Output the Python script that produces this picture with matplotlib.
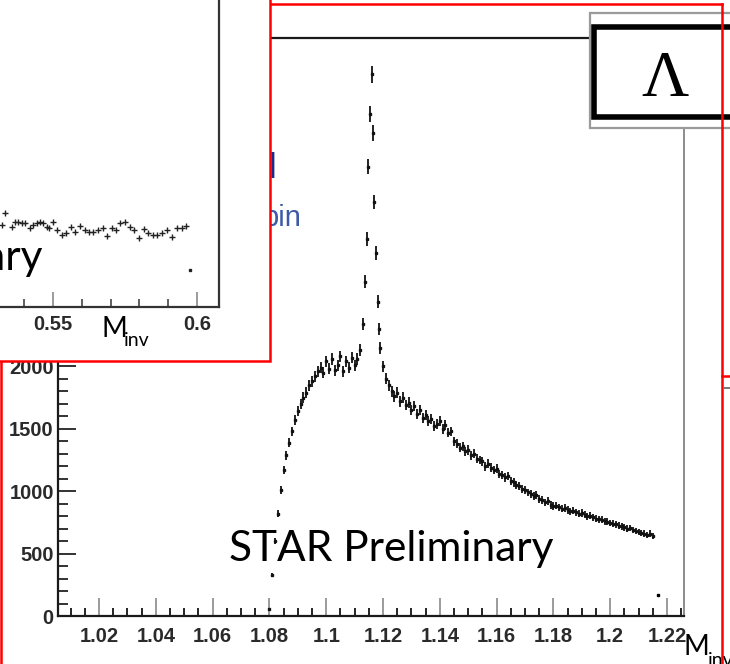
import numpy as np
import matplotlib
matplotlib.use("Agg")
from matplotlib import pyplot as plt
from matplotlib.patches import Rectangle
from matplotlib.lines import Line2D
from matplotlib.ticker import MultipleLocator, FuncFormatter

# main Lambda histogram: rising edge + plateau (0.001 bins)
rise_x = [1.080, 1.081, 1.082, 1.083, 1.084, 1.085, 1.086, 1.087, 1.088, 1.089,
          1.090, 1.091, 1.092, 1.093, 1.094, 1.095, 1.096, 1.097, 1.098, 1.099,
          1.100, 1.101, 1.102, 1.103, 1.104, 1.105, 1.106, 1.107, 1.108, 1.109,
          1.110, 1.111, 1.112]
rise_y = [60, 330, 600, 820, 1010, 1170, 1290, 1390, 1480, 1570,
          1640, 1700, 1750, 1790, 1850, 1880, 1920, 1960, 1990, 1950,
          2040, 1980, 2060, 1970, 2010, 2080, 1960, 2040, 1990, 2070,
          2010, 2060, 2130]

# peak
peak_x = [1.1130, 1.1136, 1.1142, 1.1148, 1.1154, 1.1160, 1.1165, 1.1170,
          1.1175, 1.1181, 1.1186]
peak_y = [2340, 2680, 3020, 3600, 4020, 4340, 3870, 3320, 2910, 2520, 2300]

# tail, 1.119 .. 1.215
tail_y = [2150, 2000, 1900, 1850, 1800, 1760, 1790, 1720, 1750, 1690,
          1710, 1650, 1680, 1620, 1650, 1590, 1610, 1560, 1580, 1520,
          1540, 1560, 1500, 1530, 1470, 1480, 1400, 1380, 1350, 1360,
          1320, 1330, 1290, 1300, 1260, 1250, 1240, 1200, 1220, 1190,
          1170, 1180, 1140, 1130, 1110, 1120, 1080, 1070, 1050, 1040,
          1020, 1010, 990, 980, 960, 970, 940, 930, 910, 920,
          890, 880, 885, 870, 860, 865, 850, 840, 845, 830,
          820, 825, 810, 800, 805, 790, 780, 775, 770, 760,
          755, 745, 740, 735, 725, 720, 710, 700, 705, 690,
          680, 675, 665, 660, 650, 660, 640]
tail_x = np.round(1.119 + 0.001 * np.arange(len(tail_y)), 4)

stray_x = [1.2168]
stray_y = [170]

# small inset (K0s side band)
ins_x = [0.5322, 0.5333, 0.5356, 0.5368, 0.5380, 0.5391, 0.5403, 0.5420, 0.5432,
         0.5443, 0.5455, 0.5466, 0.5478, 0.5487, 0.5499, 0.5513, 0.5530, 0.5545,
         0.5563, 0.5576, 0.5594, 0.5611, 0.5626, 0.5640, 0.5657, 0.5675, 0.5689,
         0.5704, 0.5719, 0.5733, 0.5750, 0.5767, 0.5782, 0.5800, 0.5816, 0.5831,
         0.5846, 0.5862, 0.5877, 0.5895, 0.5912, 0.5929, 0.5947, 0.5962, 0.5976]
ins_y = [820, 937, 803, 853, 853, 837, 837, 787, 820,
         837, 853, 837, 803, 787, 853, 770, 720, 737,
         803, 753, 813, 770, 753, 753, 770, 793, 713,
         787, 770, 837, 853, 803, 770, 687, 780, 737,
         720, 720, 737, 770, 703, 787, 793, 813, 370]

W, H = 730, 664
fig = plt.figure(figsize=(W / 100, H / 100), dpi=100)


def box(x0, y0, x1, y1):
    # pixel box (from top-left) -> figure fractions
    return [x0 / W, 1 - y1 / H, (x1 - x0) / W, (y1 - y0) / H]


def px(x, y):
    return x / W, 1 - y / H


tick_family = ["Liberation Sans", "DejaVu Sans"]
label_font = ["Lato", "DejaVu Sans"]
fmt = FuncFormatter(lambda v, p: f"{v:.2f}".rstrip("0"))


def style_labels(a, which):
    labs = a.get_xticklabels() if which == "x" else a.get_yticklabels()
    for lab in labs:
        lab.set_fontfamily(tick_family)
        lab.set_fontweight("bold")
        lab.set_fontsize(14.5)
        lab.set_color("#2a2a2a")


# ---- main axes
ax = fig.add_axes(box(58, 38, 684, 616))
allx = list(rise_x) + peak_x + list(tail_x)
ally = rise_y + peak_y + tail_y
ax.errorbar(allx, ally, yerr=np.sqrt(ally), xerr=0.0003, fmt="none",
            ecolor="#111111", elinewidth=1.3, capsize=0)
ax.plot(allx, ally, ls="none", marker="s", ms=1.8, color="#111111")
ax.plot(stray_x, stray_y, ls="none", marker="s", ms=2, color="black")
ax.set_xlim(1.00556, 1.22599)
ax.set_ylim(0, 4632)
ax.xaxis.set_major_locator(MultipleLocator(0.02))
ax.xaxis.set_minor_locator(MultipleLocator(0.005))
ax.yaxis.set_major_locator(MultipleLocator(500))
ax.yaxis.set_minor_locator(MultipleLocator(100))
ax.xaxis.set_major_formatter(fmt)
ax.tick_params(which="both", direction="in", top=False, right=False)
ax.tick_params(axis="x", which="major", length=13, width=1.2, color="#8a8a8a", pad=8)
ax.tick_params(axis="x", which="minor", length=6, width=1.2, color="black")
ax.tick_params(axis="y", which="major", length=13, width=1.3, color="#222222", pad=3)
ax.tick_params(axis="y", which="minor", length=7, width=1.3, color="#222222")
style_labels(ax, "x")
style_labels(ax, "y")
for s in ["left", "bottom", "top"]:
    ax.spines[s].set_linewidth(1.6)
    ax.spines[s].set_color("#1a1a1a")
ax.spines["right"].set_linewidth(1.4)
ax.spines["right"].set_color("#8c8c8c")

fig.text(*px(229, 561), "STAR Preliminary", family=label_font, fontsize=30.5,
         va="baseline", ha="left", zorder=3)
fig.text(*px(683, 655), "M", family=label_font, fontsize=20, va="baseline", zorder=3)
fig.text(*px(708, 666), "inv", family=label_font, fontsize=14, va="baseline", zorder=3)

# remnants of a legend behind the inset
fig.text(*px(262, 226), "bin", family=["Liberation Sans", "DejaVu Sans"], fontsize=21,
         color="#3c5aa8", va="baseline", zorder=2)
fig.text(*px(269, 178), "l", family=["Liberation Sans", "DejaVu Sans"], fontsize=25,
         color="#1c2a88", va="baseline", zorder=2)

# red frames
red = "#ff0000"
fig.add_artist(Line2D([1 / W, 1 / W], [1 - 4 / H, 0], color=red, lw=1.8, zorder=2))
fig.add_artist(Line2D([1 / W, 722 / W], [1 - 4 / H, 1 - 4 / H], color=red, lw=1.8, zorder=2))
fig.add_artist(Line2D([722 / W, 722 / W], [1 - 4 / H, 0], color=red, lw=1.8, zorder=9))
fig.add_artist(Line2D([722 / W, 1], [1 - 376 / H, 1 - 376 / H], color=red, lw=1.8, zorder=9))
fig.add_artist(Line2D([724 / W, 1], [1 - 388 / H, 1 - 388 / H], color="#777777", lw=1.4, zorder=9))

# inset panel
fig.add_artist(Rectangle((-10 / W, 1 - 361 / H), 280 / W, 380 / H, transform=fig.transFigure,
                         facecolor="white", edgecolor=red, lw=1.8, zorder=4))
ax2 = fig.add_axes(box(-235, -100, 219, 307), zorder=5)
ax2.set_facecolor("none")
ax2.plot(ins_x[:-1], ins_y[:-1], ls="none", marker="+", ms=5, mew=1.0, color="#222222")
ax2.plot(ins_x[-1:], ins_y[-1:], ls="none", marker="s", ms=2, color="#222222")
ax2.set_xlim(0.45, 0.60764)
ax2.set_ylim(0, 4070)
ax2.xaxis.set_major_locator(MultipleLocator(0.05))
ax2.xaxis.set_minor_locator(MultipleLocator(0.01))
ax2.xaxis.set_major_formatter(fmt)
ax2.set_yticks([])
ax2.tick_params(which="both", direction="in", top=False, right=False)
ax2.tick_params(axis="x", which="major", length=11, width=1.2, color="#8a8a8a", pad=6)
ax2.tick_params(axis="x", which="minor", length=6, width=1.2, color="#444444")
style_labels(ax2, "x")
ax2.spines["left"].set_visible(False)
ax2.spines["top"].set_visible(False)
for s in ["right", "bottom"]:
    ax2.spines[s].set_linewidth(1.6)
    ax2.spines[s].set_color("#333333")
ax2.text((43 + 235) / 454, 37 / 407, "STAR Preliminary", transform=ax2.transAxes,
         family=label_font, fontsize=30.5, ha="right", va="baseline", clip_on=False)
fig.text(*px(102, 337), "M", family=label_font, fontsize=20, va="baseline", zorder=6)
fig.text(*px(124, 346), "inv", family=label_font, fontsize=14, va="baseline", zorder=6)

# stats box and Lambda label
fig.add_artist(Rectangle((590 / W, 1 - 128 / H), 180 / W, 115 / H, transform=fig.transFigure,
                         facecolor="white", edgecolor="#9a9a9a", lw=1.6, zorder=6))
fig.add_artist(Rectangle((594 / W, 1 - 117 / H), 160 / W, 90 / H, transform=fig.transFigure,
                         facecolor="white", edgecolor="black", lw=4, zorder=7))
fig.text(*px(665, 80), "Λ", family=["Liberation Serif", "DejaVu Serif"], fontsize=47,
         ha="center", va="center", zorder=8)

fig.savefig("out.png", dpi=100)
